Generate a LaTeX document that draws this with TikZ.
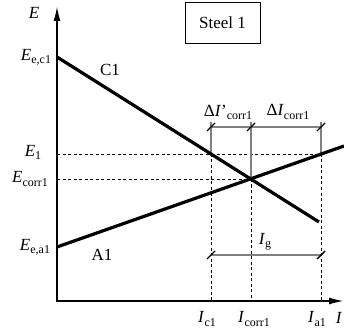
\documentclass[tikz,border=0pt]{standalone}
\usepackage{fontspec}
\setmainfont{Liberation Serif}
\usetikzlibrary{arrows.meta}
\newcommand\sbs[1]{\raisebox{-0.4ex}{\fontsize{12}{13}\selectfont #1}}
\begin{document}
\begin{tikzpicture}[x=1pt,y=-1pt,
  lbl/.style={font=\fontsize{17}{19}\selectfont, inner sep=0pt},
  curve/.style={line width=3.2pt},
  axis/.style={line width=1.8pt, {Latex[length=15pt,width=7pt]}-{Latex[length=15pt,width=7pt]}},
  guide/.style={line width=0.8pt, dash pattern=on 3pt off 2.5pt},
  dim/.style={gray, line width=1.5pt},
  tick/.style={line width=1.4pt}]
\useasboundingbox (0,0) rectangle (344,328);
% coordinates
\coordinate (ytop) at (57,6);
\coordinate (O) at (57,301);
\coordinate (xend) at (344,301);
\coordinate (c1s) at (57,57);
\coordinate (c1e) at (319,222);
\coordinate (a1s) at (57,247);
\coordinate (a1e) at (344,146);
\coordinate (X) at (251,179);
\coordinate (Pc) at (211,154);
\coordinate (Pa) at (321,154);
\coordinate (E1ax) at (57,154);
\coordinate (Ecax) at (57,179);
\coordinate (Ic1b) at (211,301);
\coordinate (Icb) at (251,301);
\coordinate (Ia1b) at (321,301);
\coordinate (Ic1t) at (211,122);
\coordinate (Ict) at (251,122);
\coordinate (Ia1t) at (321,122);
\coordinate (d1) at (211,127);
\coordinate (d2) at (251,127);
\coordinate (d3) at (321,127);
\coordinate (g1) at (211,255);
\coordinate (g2) at (321,255);
% guides
\draw[guide] (E1ax) -- (Pa);
\draw[guide] (Ecax) -- (X);
\draw[guide] (Pc) -- (Ic1b);
\draw[guide] (X) -- (Icb);
\draw[guide] (Pa) -- (Ia1b);
\draw[dim] (Ic1t) -- (Pc);
\draw[dim] (Ict) -- (X);
\draw[dim] (Ia1t) -- (Pa);
\draw[dim] (d1) -- (d3);
\draw[dim] (g1) -- (g2);
\foreach \p in {d1,d2,d3,g1,g2}
  \draw[tick] ([shift={(-4,4)}]\p) -- ([shift={(4,-4)}]\p);
% axes
\draw[axis] (ytop) |- (xend);
% curves
\draw[curve] (c1s) -- (c1e);
\draw[curve] (a1s) -- (a1e);
% labels
\node[lbl] (lE) at (34,13) {\textit{E}};
\node[lbl] (lI) at (339,318) {\textit{I}};
\node[lbl] (lEec) at (36,57) {\textit{E}\sbs{e,c1}};
\node[lbl] (lE1) at (33,152) {\textit{E}\sbs{1}};
\node[lbl] (lEc) at (30,179) {\textit{E}\sbs{corr1}};
\node[lbl] (lEea) at (35,247) {\textit{E}\sbs{e,a1}};
\node[lbl] (lC1) at (110,70) {C1};
\node[lbl] (lA1) at (102,255) {A1};
\node[lbl] (lIc1) at (207,319) {\textit{I}\sbs{c1}};
\node[lbl] (lIc) at (254,319) {\textit{I}\sbs{corr1}};
\node[lbl] (lIa1) at (317,319) {\textit{I}\sbs{a1}};
\node[lbl] (lIg) at (265,242) {\textit{I}\sbs{g}};
\node[lbl] (lDp) at (228,112) {Δ\textit{I}'\sbs{corr1}};
\node[lbl] (lD) at (288,112) {Δ\textit{I}\sbs{corr1}};
\node[lbl, draw, line width=0.6pt, minimum width=75pt, minimum height=41pt] (steel) at (222.5,22.5) {Steel 1};
\end{tikzpicture}
\end{document}
